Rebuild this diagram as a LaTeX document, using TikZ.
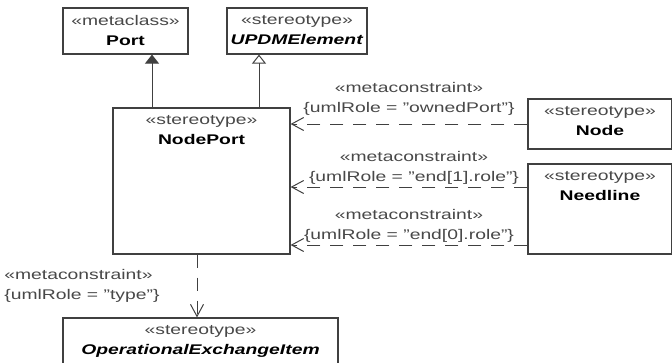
\documentclass[tikz,border=0pt]{standalone}
\usepackage{fontspec}
\setmainfont{Liberation Sans}[FakeStretch=1.38]
\usetikzlibrary{positioning, arrows.meta}
\definecolor{UMLline}{RGB}{64, 64, 64}
\definecolor{UMLtext}{RGB}{72, 72, 72}
\tikzset{
  cls/.style={rectangle, draw=UMLline, line width=1.2pt, fill=white, inner sep=0pt},
  ttl/.style={align=center, inner sep=0pt, font=\fontsize{14}{20}\selectfont, text=UMLtext},
  gen/.style={-{Triangle[length=9pt, width=14pt]}, UMLline, line width=1pt},
  genopen/.style={-{Triangle[open, length=9pt, width=14pt, fill=white]}, UMLline, line width=1pt},
  mc/.style={-{Straight Barb[length=12pt, width=13pt]}, UMLline, line width=1pt, dash pattern=on 13pt off 10pt},
  lbl/.style={align=center, inner sep=0pt, font=\fontsize{14}{20}\selectfont, text=UMLtext},
}
\newcommand{\clsname}[1]{\textcolor{black}{\textbf{#1}}}
\newcommand{\absname}[1]{\textcolor{black}{\textbf{\textit{#1}}}}

\begin{document}
\begin{tikzpicture}[x=1pt, y=-1pt]
    \useasboundingbox (0,0) rectangle (672,362);
    \clip (0,0) rectangle (672,362);
    % metaclass and stereotypes on top
    \node[cls, minimum width=125pt, minimum height=46pt] (port) at (125.5,31) {};
    \node[ttl, below=8pt of port.north] (portT) {«metaclass»\\\clsname{Port}};
    \node[cls, minimum width=140pt, minimum height=46pt] (updm) at (297,31) {};
    \node[ttl, below=8pt of updm.north] (updmT) {«stereotype»\\\absname{UPDMElement}};
    % NodePort
    \node[cls, minimum width=177pt, minimum height=146pt] (np) at (201.5,181) {};
    \node[ttl, below=8pt of np.north] (npT) {«stereotype»\\\clsname{NodePort}};
    % right side
    \node[cls, minimum width=144pt, minimum height=50pt] (node) at (600,124) {};
    \node[ttl, below=8pt of node.north] (nodeT) {«stereotype»\\\clsname{Node}};
    \node[cls, minimum width=144pt, minimum height=90pt] (needl) at (600,209) {};
    \node[ttl, below=8pt of needl.north] (needlT) {«stereotype»\\\clsname{Needline}};
    % bottom
    \node[cls, minimum width=275pt, minimum height=64pt] (oei) at (200.5,350) {};
    \node[ttl, below=8pt of oei.north] (oeiT) {«stereotype»\\\absname{OperationalExchangeItem}};
    % generalizations
    \draw[gen] ([xshift=-49.5pt]np.north) -- ([xshift=-49.5pt]np.north |- port.south);
    \draw[genopen] ([xshift=57.5pt]np.north) -- ([xshift=57.5pt]np.north |- updm.south);
    % metaconstraints
    \draw[mc] (node.west) -- (node.west -| np.east)
      node[lbl, midway, above=8pt] (mc1) {«metaconstraint»\\\{umlRole = "ownedPort"\}};
    \draw[mc] ([yshift=22pt]needl.west) -- ([yshift=22pt]needl.west -| np.east)
      node[lbl, midway, above=2pt, xshift=5pt] (mc2) {«metaconstraint»\\\{umlRole = "end[1].role"\}};
    \draw[mc] ([yshift=-36pt]needl.west) -- ([yshift=-36pt]needl.west -| np.east)
      node[lbl, midway, above=2pt] (mc3) {«metaconstraint»\\\{umlRole = "end[0].role"\}};
    \draw[mc] ([xshift=-4.5pt]np.south) -- ([xshift=-4.5pt]np.south |- oei.north)
      node[lbl, midway, left=37pt, align=left] (mc4) {«metaconstraint»\\\{umlRole = "type"\}};
\end{tikzpicture}
\end{document}
